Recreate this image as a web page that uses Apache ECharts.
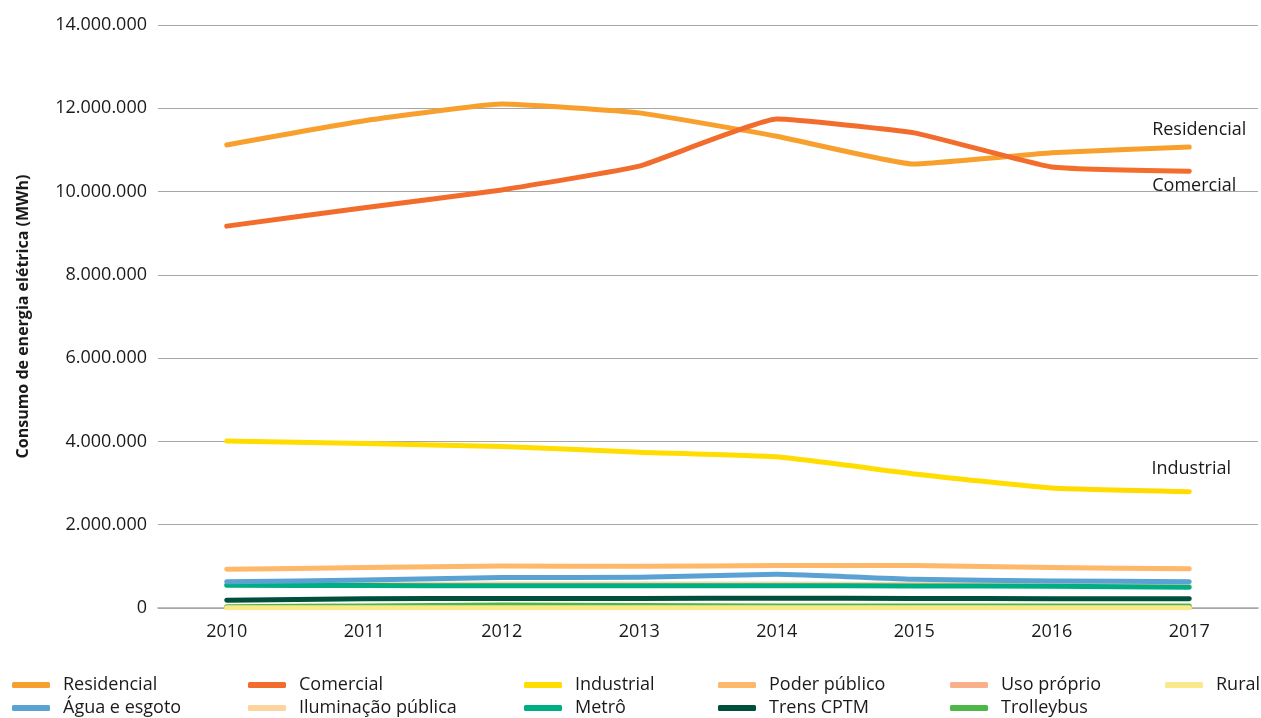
<!DOCTYPE html>
<html>
<head>
<meta charset="utf-8">
<script src="https://cdn.jsdelivr.net/npm/echarts@6/dist/echarts.min.js"></script>
<style>
html,body{margin:0;padding:0;background:#fff;}
#chart{width:1261px;height:718px;}
</style>
</head>
<body>
<div id="chart"></div>
<script>
const years = ['2010','2011','2012','2013','2014','2015','2016','2017'];
const yTicks = [0, 2000000, 4000000, 6000000, 8000000, 10000000, 12000000, 14000000];

const residencial = [11120000, 11700000, 12100000, 11890000, 11330000, 10660000, 10930000, 11070000];
const comercial   = [9170000, 9610000, 10040000, 10610000, 11740000, 11410000, 10590000, 10490000];
const industrial  = [4010000, 3950000, 3880000, 3740000, 3630000, 3220000, 2880000, 2790000];
const poderPublico = [930000, 970000, 1010000, 1000000, 1020000, 1020000, 970000, 940000];
const usoProprio  = [10000, 10000, 10000, 10000, 10000, 10000, 10000, 10000];
const rural       = [5000, 5000, 5000, 5000, 5000, 5000, 5000, 5000];
const aguaEsgoto  = [630000, 670000, 730000, 740000, 810000, 690000, 650000, 630000];
const iluminacao  = [570000, 570000, 575000, 575000, 575000, 570000, 560000, 540000];
const metro       = [545000, 540000, 535000, 535000, 535000, 530000, 520000, 500000];
const trensCPTM   = [185000, 220000, 230000, 230000, 235000, 230000, 225000, 220000];
const trolleybus  = [30000, 50000, 70000, 60000, 50000, 50000, 50000, 50000];

const FONT = '"Open Sans", "Noto Sans", sans-serif';

const defs = [
  {name:'Residencial', data:residencial, color:'#F8A02E', label:{text:'Residencial', off:[2,-17]}},
  {name:'Comercial', data:comercial, color:'#F26D2D', label:{text:'Comercial', off:[-3,15]}},
  {name:'Industrial', data:industrial, color:'#FFDD00', label:{text:'Industrial', off:[-6,-23]}},
  {name:'Poder público', data:poderPublico, color:'#FDB869'},
  {name:'Uso próprio', data:usoProprio, color:'#F9AF8A'},
  {name:'Rural', data:rural, color:'#FBE88A'},
  {name:'Água e esgoto', data:aguaEsgoto, color:'#5AA2D3'},
  {name:'Iluminação pública', data:iluminacao, color:'#FDD3A0'},
  {name:'Metrô', data:metro, color:'#00AE84'},
  {name:'Trens CPTM', data:trensCPTM, color:'#004F3B'},
  {name:'Trolleybus', data:trolleybus, color:'#4DB848'}
];

const drawOrder = ['Iluminação pública','Uso próprio','Trolleybus','Rural','Trens CPTM','Metrô','Água e esgoto','Poder público','Industrial','Residencial','Comercial'];

const series = drawOrder.map((n, i) => {
  const d = defs.find(x => x.name === n);
  const s = {
    name: d.name, type: 'line', data: d.data, smooth: 0.12,
    symbol: 'none', z: 2 + i,
    lineStyle: {color: d.color, width: 5, cap: 'round', join: 'round'},
    itemStyle: {color: d.color},
    emphasis: {disabled: true}
  };
  if (d.label) {
    s.endLabel = {
      show: true, formatter: d.label.text, color: '#1a1a1a',
      fontFamily: FONT, fontSize: 18, align: 'center', verticalAlign: 'middle',
      offset: d.label.off
    };
  }
  return s;
});

const legendCols = [
  {left: 12, items: ['Residencial', 'Água e esgoto']},
  {left: 248, items: ['Comercial', 'Iluminação pública']},
  {left: 524, items: ['Industrial', 'Metrô']},
  {left: 718, items: ['Poder público', 'Trens CPTM']},
  {left: 950, items: ['Uso próprio', 'Trolleybus']},
  {left: 1165, items: ['Rural']}
];

const legends = legendCols.map(c => ({
  orient: 'vertical', left: c.left, top: 676, padding: 0,
  data: c.items, icon: 'roundRect', itemWidth: 38, itemHeight: 6, itemGap: 5,
  selectedMode: false,
  textStyle: {fontFamily: FONT, fontSize: 18, color: '#1a1a1a', lineHeight: 18, padding: [0,0,0,8]}
}));

const chart = echarts.init(document.getElementById('chart'), null, {renderer: 'canvas'});
chart.setOption({
  animation: false,
  backgroundColor: '#fff',
  grid: {left: 158, right: 3, top: 25, bottom: 110, containLabel: false},
  legend: legends,
  xAxis: {
    type: 'category', data: years, boundaryGap: true,
    axisLine: {lineStyle: {color: '#a6a6a6', width: 1.5}},
    axisTick: {show: false},
    axisLabel: {fontFamily: FONT, fontSize: 18, color: '#1a1a1a', margin: 15}
  },
  yAxis: {
    type: 'value', min: yTicks[0], max: yTicks[yTicks.length-1], interval: yTicks[1]-yTicks[0],
    name: 'Consumo de energia elétrica (MWh)', nameLocation: 'middle', nameGap: 127,
    nameTextStyle: {fontFamily: FONT, fontSize: 16, fontWeight: 'bold', color: '#1a1a1a'},
    axisLine: {show: false}, axisTick: {show: false},
    splitLine: {lineStyle: {color: '#a6a6a6', width: 1}},
    axisLabel: {fontFamily: FONT, fontSize: 18, color: '#1a1a1a', margin: 11,
      formatter: v => v.toString().replace(/\B(?=(\d{3})+(?!\d))/g, '.')}
  },
  series: series
});
</script>
</body>
</html>
